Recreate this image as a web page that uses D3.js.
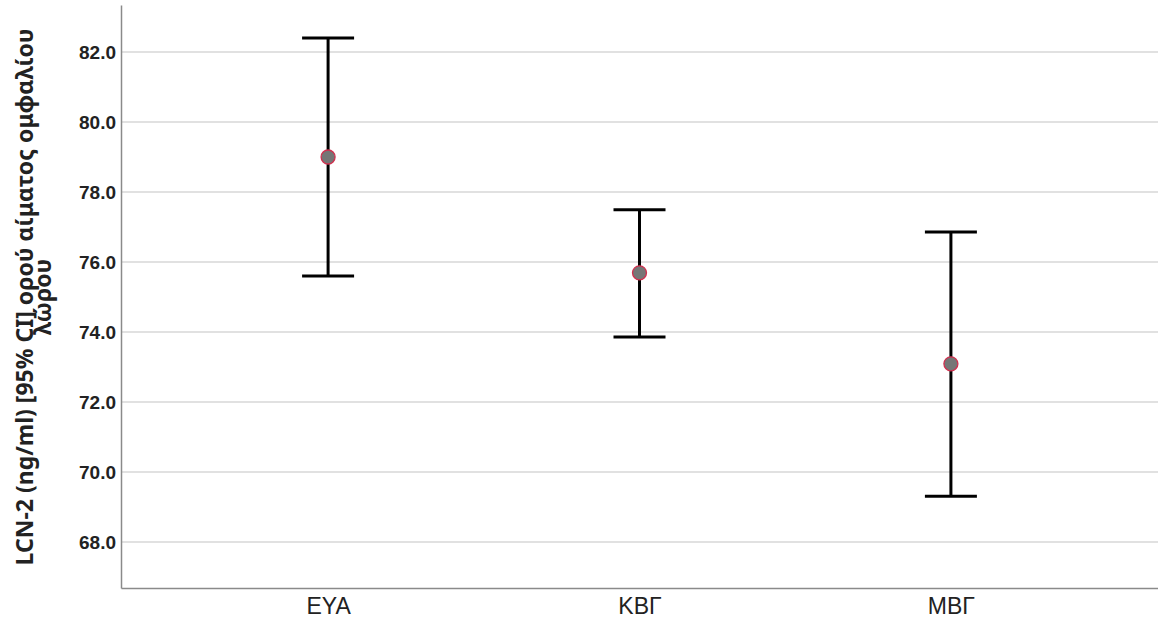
<!DOCTYPE html>
<html>
<head>
<meta charset="utf-8">
<script src="https://cdn.jsdelivr.net/npm/d3@7"></script>
<style>
  body { margin: 0; background: #fff; }
  svg { font-family: "Noto Sans", "Open Sans", sans-serif; }
</style>
</head>
<body>
<div id="chart"></div>
<script>
// group names and the 95% CI values
const groups = ["ΕΥΑ", "ΚΒΓ", "ΜΒΓ"];
const means = [79.0, 75.69, 73.09];
const lower = [75.6, 73.86, 69.31];
const upper = [82.4, 77.49, 76.86];
const yTicks = [68, 70, 72, 74, 76, 78, 80, 82];

const width = 1158, height = 625;
const margin = {top: 5, right: 0, bottom: 37, left: 121};

const svg = d3.select("#chart").append("svg")
    .attr("width", width)
    .attr("height", height);

const x = d3.scalePoint()
    .domain(groups)
    .range([margin.left, width - margin.right])
    .padding(0.665);

const y = d3.scaleLinear()
    .domain([66.686, 83.343])
    .range([height - margin.bottom, margin.top]);

// gridlines
svg.append("g")
    .selectAll("line")
    .data(yTicks)
    .join("line")
    .attr("x1", margin.left)
    .attr("x2", width - margin.right)
    .attr("y1", d => y(d))
    .attr("y2", d => y(d))
    .attr("stroke", "#c4c4c4")
    .attr("stroke-width", 1.2);

// y axis
const yAxis = d3.axisLeft(y)
    .tickValues(yTicks)
    .tickFormat(d3.format(".1f"))
    .tickSize(0)
    .tickPadding(5);

const yG = svg.append("g")
    .attr("transform", `translate(${margin.left},0)`)
    .call(yAxis);
yG.select(".domain").attr("stroke", "#8a8a8a").attr("stroke-width", 1.5);
yG.selectAll("text")
    .attr("font-size", 19)
    .attr("font-weight", "bold")
    .attr("fill", "#222");

// x axis
const xAxis = d3.axisBottom(x).tickSize(0).tickPadding(10);
const xG = svg.append("g")
    .attr("transform", `translate(0,${height - margin.bottom})`)
    .call(xAxis);
xG.select(".domain").attr("stroke", "#8a8a8a").attr("stroke-width", 1.5);
xG.selectAll("text")
    .attr("font-size", 23)
    .attr("fill", "#222");

// y axis title (two lines)
const title = svg.append("text")
    .attr("transform", `translate(33,297) rotate(-90)`)
    .attr("text-anchor", "middle")
    .attr("font-size", 23)
    .attr("font-weight", "bold")
    .attr("fill", "#222");
title.append("tspan").attr("x", 0).attr("dy", 0).text("LCN-2 (ng/ml) [95% CI] ορού αίματος ομφαλίου");
title.append("tspan").attr("x", 0).attr("dy", 18).text("λώρου");

// error bars
const data = groups.map((g, i) => ({g, mean: means[i], lo: lower[i], hi: upper[i]}));
const capHalf = 26;

const bars = svg.append("g").selectAll("g")
    .data(data)
    .join("g");

bars.append("line")
    .attr("x1", d => x(d.g))
    .attr("x2", d => x(d.g))
    .attr("y1", d => y(d.lo))
    .attr("y2", d => y(d.hi))
    .attr("stroke", "#000")
    .attr("stroke-width", 3);

bars.append("line")
    .attr("x1", d => x(d.g) - capHalf)
    .attr("x2", d => x(d.g) + capHalf)
    .attr("y1", d => y(d.hi))
    .attr("y2", d => y(d.hi))
    .attr("stroke", "#000")
    .attr("stroke-width", 3);

bars.append("line")
    .attr("x1", d => x(d.g) - capHalf)
    .attr("x2", d => x(d.g) + capHalf)
    .attr("y1", d => y(d.lo))
    .attr("y2", d => y(d.lo))
    .attr("stroke", "#000")
    .attr("stroke-width", 3);

bars.append("circle")
    .attr("cx", d => x(d.g))
    .attr("cy", d => y(d.mean))
    .attr("r", 7)
    .attr("fill", "#767676")
    .attr("stroke", "#d0304f")
    .attr("stroke-width", 1.3);
</script>
</body>
</html>
